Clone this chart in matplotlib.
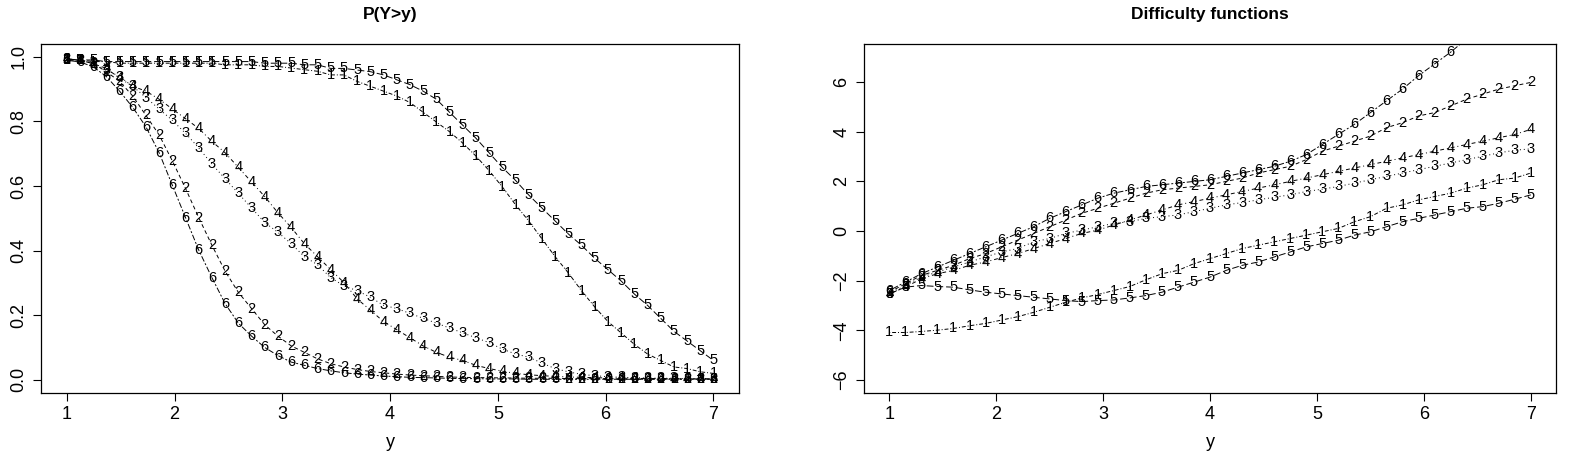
import numpy as np
import matplotlib
matplotlib.use("Agg")
import matplotlib.pyplot as plt

plt.rcParams['font.family'] = ['Liberation Sans', 'DejaVu Sans']

# Left panel: P(Y>y) on a 50-point grid
x_left = np.linspace(1, 7, 50)
p1_head = [0.99, 0.99, 0.985, 0.985, 0.98, 0.98, 0.98, 0.98, 0.98, 0.98, 0.98, 0.98, 0.975, 0.975,
           0.975, 0.97, 0.97, 0.965, 0.96, 0.955]
p5_head = [0.99, 0.99, 0.99, 0.985, 0.985, 0.985, 0.985, 0.985, 0.985, 0.985, 0.985, 0.985, 0.985,
           0.985, 0.985, 0.98, 0.98, 0.98, 0.975, 0.975]
zy1_tail = [80, 80, 100, 115, 130, 145, 165, 195, 225, 255, 290, 330, 375, 425, 480, 530, 585, 640, 690,
            745, 795, 840, 875, 910, 940, 960, 980, 985, 995, 1000]
zy5_tail = [60, 60, 65, 70, 80, 95, 110, 130, 155, 195, 235, 275, 320, 365, 405, 450, 490, 530, 570, 605,
            645, 680, 715, 755, 790, 830, 870, 900, 930, 960]
px_left = {
    2: [30,35,45,70,100,145,205,265,345,430,520,605,685,750,800,850,885,915,935,955,970,980,988,994,998,
        1002,1005,1007,1009,1011,1012,1013,1013,1014,1014,1015,1015,1015,1016,1016,1016,1016,1017,1017,1017,1017,1017,1017,1017,1017],
    3: [30,35,45,65,85,115,150,185,220,260,305,355,400,445,490,535,565,600,640,665,705,730,745,765,790,
        800,815,830,845,860,875,890,905,925,940,950,968,985,995,1003,1007,1010,1012,1013,1014,1015,1015,1016,1016,1017],
    4: [30,35,45,60,90,115,130,155,185,215,245,285,320,365,410,455,505,550,600,640,680,720,770,805,840,
        865,890,915,935,950,960,975,985,993,1000,1004,1007,1009,1011,1012,1013,1014,1015,1015,1016,1016,1016,1017,1017,1017],
    6: [35,40,55,85,130,180,240,320,420,520,620,705,785,845,885,920,945,965,975,985,992,998,1002,1005,
        1008,1010,1012,1013,1014,1015,1016,1016,1017,1017,1017,1018,1018,1018,1018,1018,1018,1018,1018,1018,1018,1018,1018,1018,1018,1018],
}
p_left = {k: [(1020 - v) / 996 for v in vals] for k, vals in px_left.items()}
p_left[1] = p1_head + [(380 - (40 + z / 3)) / 332 for z in zy1_tail]
p_left[5] = p5_head + [(380 - (40 + z / 3)) / 332 for z in zy5_tail]
p_left = dict(sorted(p_left.items()))

# Right panel: difficulty functions on a 41-point grid
x_right = np.linspace(1, 7, 41)
px_right = {
    1: [875,875,872,868,863,855,848,838,828,815,800,785,772,762,750,738,718,700,690,670,655,640,625,615,605,
        595,585,575,565,545,530,505,495,480,470,460,445,435,420,415,400],
    2: [755,730,705,690,675,655,640,620,600,580,560,540,520,505,490,475,460,450,445,440,435,425,415,400,390,
        380,360,335,320,305,290,265,250,230,220,200,180,165,150,140,130],
    3: [760,735,710,695,680,665,650,635,625,605,595,580,570,560,550,545,535,530,525,515,505,495,488,480,472,
        465,455,448,440,430,420,410,400,390,380,370,360,350,340,332,328],
    4: [760,740,715,700,690,675,665,652,640,625,610,595,580,570,555,540,525,510,495,485,475,465,455,445,435,
        425,415,405,395,385,375,365,355,345,335,325,315,305,295,285,270],
    5: [760,740,735,738,740,748,755,760,765,770,775,780,783,780,778,772,765,755,740,725,710,690,675,665,650,
        635,620,610,600,585,575,560,545,535,525,515,505,500,490,478,465],
    6: [750,725,700,680,660,640,620,600,580,560,535,515,495,475,460,450,440,435,430,425,420,410,400,390,380,
        365,345,315,285,255,220,185,150,110,75,40,0,-40,-80,-120,-160],
}
d_right = {k: [(573 - v) / 74 for v in vals] for k, vals in px_right.items()}

styles = {1: (0, (1, 2, 4, 2)), 2: (0, (4, 3)), 3: (0, (1, 3)), 4: (0, (1, 3, 4, 3)),
          5: (0, (7, 3)), 6: (0, (2, 2, 6, 2))}

fig = plt.figure(figsize=(15.73, 4.66), dpi=100)
axL = fig.add_axes([0.026, 0.157, 0.444, 0.749])
axR = fig.add_axes([0.549, 0.157, 0.4405, 0.749])

def draw(ax, x, data, ylim):
    for k, y in data.items():
        ax.plot(x, y, color='black', lw=0.7, linestyle=styles[k])
        for xi, yi in zip(x, y):
            if ylim[0] <= yi <= ylim[1] - 0.15 * (ylim[1] - ylim[0]) / 14:
                ax.text(xi, yi, str(k), ha='center', va='center', fontsize=10.5)

ylimL = (-0.04, 1.04)
ylimR = (-6.51, 7.54)
draw(axL, x_left, p_left, ylimL)
draw(axR, x_right, d_right, ylimR)

for ax in (axL, axR):
    ax.set_xlim(0.76, 7.24)
    ax.set_xticks(range(1, 8))
    ax.tick_params(direction='out', length=6, labelsize=13)
    ax.set_xlabel('y', fontsize=13, labelpad=8)
    for s in ax.spines.values():
        s.set_linewidth(0.9)

axL.set_ylim(*ylimL)
axL.set_yticks([0.0, 0.2, 0.4, 0.6, 0.8, 1.0])
axL.set_yticklabels(['0.0', '0.2', '0.4', '0.6', '0.8', '1.0'], rotation=90, va='center')
axL.set_title('P(Y>y)', fontsize=12.5, fontweight='bold', pad=18)

axR.set_ylim(*ylimR)
axR.set_yticks([-6, -4, -2, 0, 2, 4, 6])
axR.set_yticklabels(['\u22126', '\u22124', '\u22122', '0', '2', '4', '6'], rotation=90, va='center')
axR.set_title('Difficulty functions', fontsize=12.5, fontweight='bold', pad=18)

fig.savefig('out.png', dpi=100)
